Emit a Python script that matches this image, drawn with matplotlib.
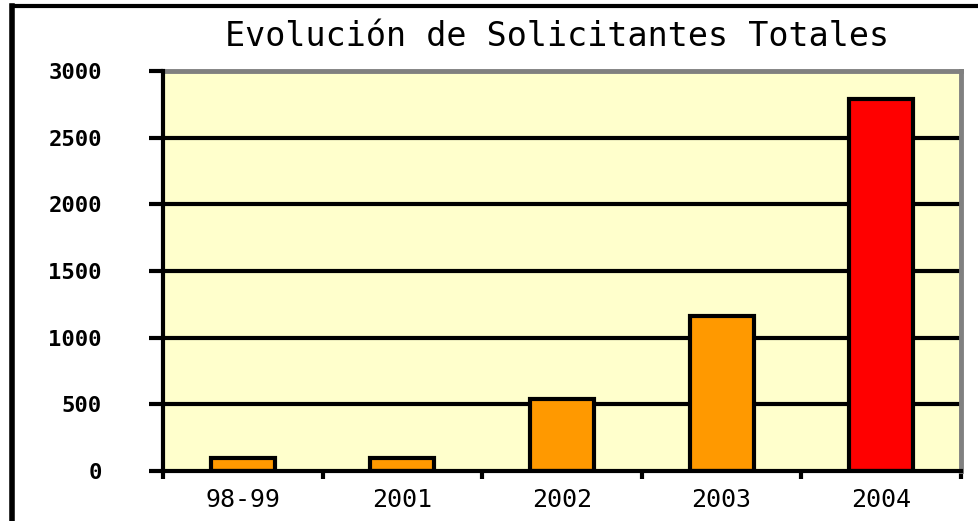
import matplotlib
matplotlib.use("Agg")
import matplotlib.pyplot as plt
from matplotlib.lines import Line2D

categories = ["98-99", "2001", "2002", "2003", "2004"]
values = [100, 100, 540, 1160, 2790]
colors = ["#FF9900", "#FF9900", "#FF9900", "#FF9900", "#FF0000"]
yticks = [0, 500, 1000, 1500, 2000, 2500, 3000]
title = "Evolución de Solicitantes Totales"

W, H = 979, 521
fig = plt.figure(figsize=(W / 100, H / 100), dpi=100)
fig.patch.set_facecolor("white")

ax = fig.add_axes([163 / W, 1 - 471 / H, (961 - 163) / W, (471 - 71) / H])
ax.set_facecolor("#FFFFCC")

x = list(range(len(categories)))
ax.bar(x, values, width=0.4, color=colors, edgecolor="black", linewidth=3, zorder=3)

ax.set_xlim(-0.5, len(categories) - 0.5)
ax.set_ylim(0, 3000)
ax.set_yticks(yticks)
ax.set_yticklabels([str(v) for v in yticks], fontfamily="DejaVu Sans Mono",
                   fontsize=16, fontweight="bold")
for v in yticks[1:-1]:
    ax.axhline(v, color="black", linewidth=3, zorder=1)

ax.set_xticks([i - 0.5 for i in range(len(categories) + 1)], minor=False)
ax.set_xticklabels([])
ax.set_xticks(x, minor=True)
ax.set_xticklabels(categories, minor=True, fontfamily="DejaVu Sans Mono",
                   fontsize=18)
ax.tick_params(axis="x", which="major", direction="out", length=6, width=3, color="black")
ax.tick_params(axis="x", which="minor", length=0, pad=12)
ax.tick_params(axis="y", direction="out", length=10, width=3, color="black", pad=34)

for side in ["left", "bottom"]:
    ax.spines[side].set_color("black")
    ax.spines[side].set_linewidth(3)
    ax.spines[side].set_zorder(4)
for side in ["top", "right"]:
    ax.spines[side].set_color("#808080")
    ax.spines[side].set_linewidth(3.5)

fig.text(557 / W, 1 - 36 / H, title, ha="center", va="center",
         fontfamily="DejaVu Sans Mono", fontsize=24)

# figure border lines (top and left)
fig.add_artist(Line2D([12 / W, 1.0], [1 - 6 / H, 1 - 6 / H], color="black",
                      linewidth=3, transform=fig.transFigure))
fig.add_artist(Line2D([12 / W, 12 / W], [0, 1 - 6 / H], color="black",
                      linewidth=4, transform=fig.transFigure))

fig.savefig("out.png", dpi=100)
